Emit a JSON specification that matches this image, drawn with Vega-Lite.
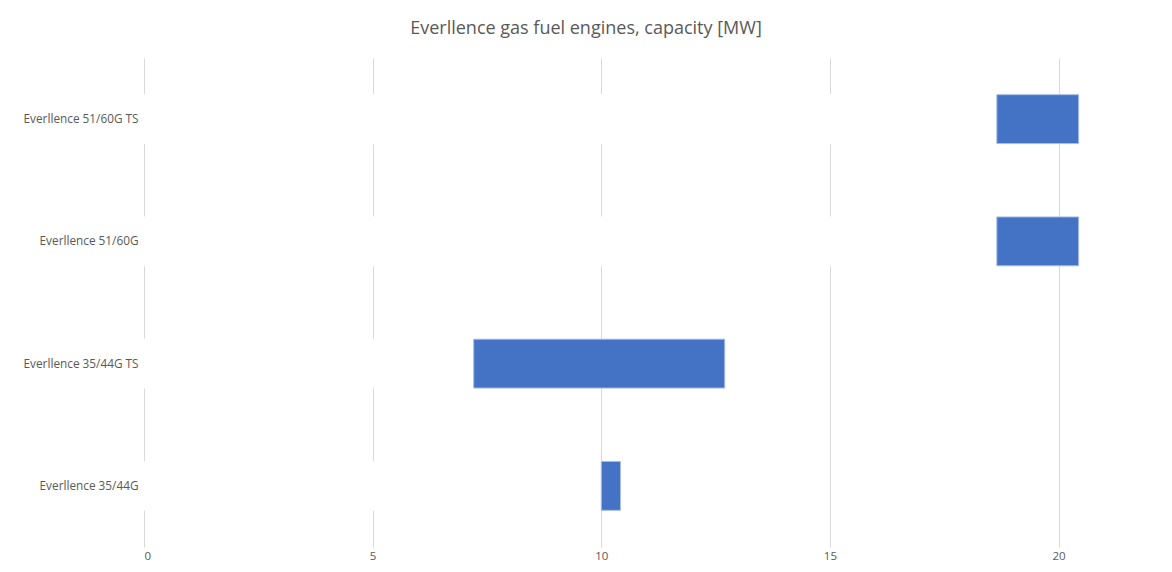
{
  "$schema": "https://vega.github.io/schema/vega-lite/v6.json",
  "autosize": "none",
  "width": 1006,
  "height": 489,
  "padding": {"left": 144, "top": 58, "right": 22, "bottom": 25},
  "background": "white",
  "view": {"stroke": null},
  "title": {
    "text": "Everllence gas fuel engines, capacity [MW]",
    "font": "Open Sans",
    "fontSize": 18,
    "fontWeight": "normal",
    "color": "#595959",
    "offset": 20,
    "dx": -61
  },
  "data": {
    "values": [
      {"engine": "Everllence 51/60G TS", "start": 18.65, "end": 20.44},
      {"engine": "Everllence 51/60G", "start": 18.65, "end": 20.44},
      {"engine": "Everllence 35/44G TS", "start": 7.21, "end": 12.7},
      {"engine": "Everllence 35/44G", "start": 10.0, "end": 10.42}
    ]
  },
  "encoding": {
    "y": {
      "field": "engine",
      "type": "nominal",
      "sort": null,
      "scale": {"paddingInner": 0.6, "paddingOuter": 0.3},
      "axis": {
        "title": null,
        "domain": false,
        "ticks": false,
        "grid": false,
        "labelFont": "Open Sans",
        "labelFontSize": 11.8,
        "labelColor": "#595959",
        "labelPadding": 6
      }
    }
  },
  "layer": [
    {
      "mark": {"type": "bar", "fill": "white", "stroke": "white", "strokeWidth": 1},
      "encoding": {
        "x": {
          "field": "start",
          "type": "quantitative",
          "scale": {"domain": [0, 22], "nice": false},
          "axis": {
            "title": null,
            "values": [0, 5, 10, 15, 20],
            "domain": false,
            "ticks": false,
            "grid": true,
            "gridColor": "#d9d9d9",
            "gridWidth": 1,
            "labelFont": "Open Sans",
            "labelFontSize": 11.5,
            "labelColor": "#595959",
            "labelPadding": 3
          }
        }
      }
    },
    {
      "mark": {"type": "bar", "fill": "#4472C4", "stroke": "#a9bde3", "strokeWidth": 1},
      "encoding": {
        "x": {"field": "start", "type": "quantitative"},
        "x2": {"field": "end"}
      }
    }
  ]
}
